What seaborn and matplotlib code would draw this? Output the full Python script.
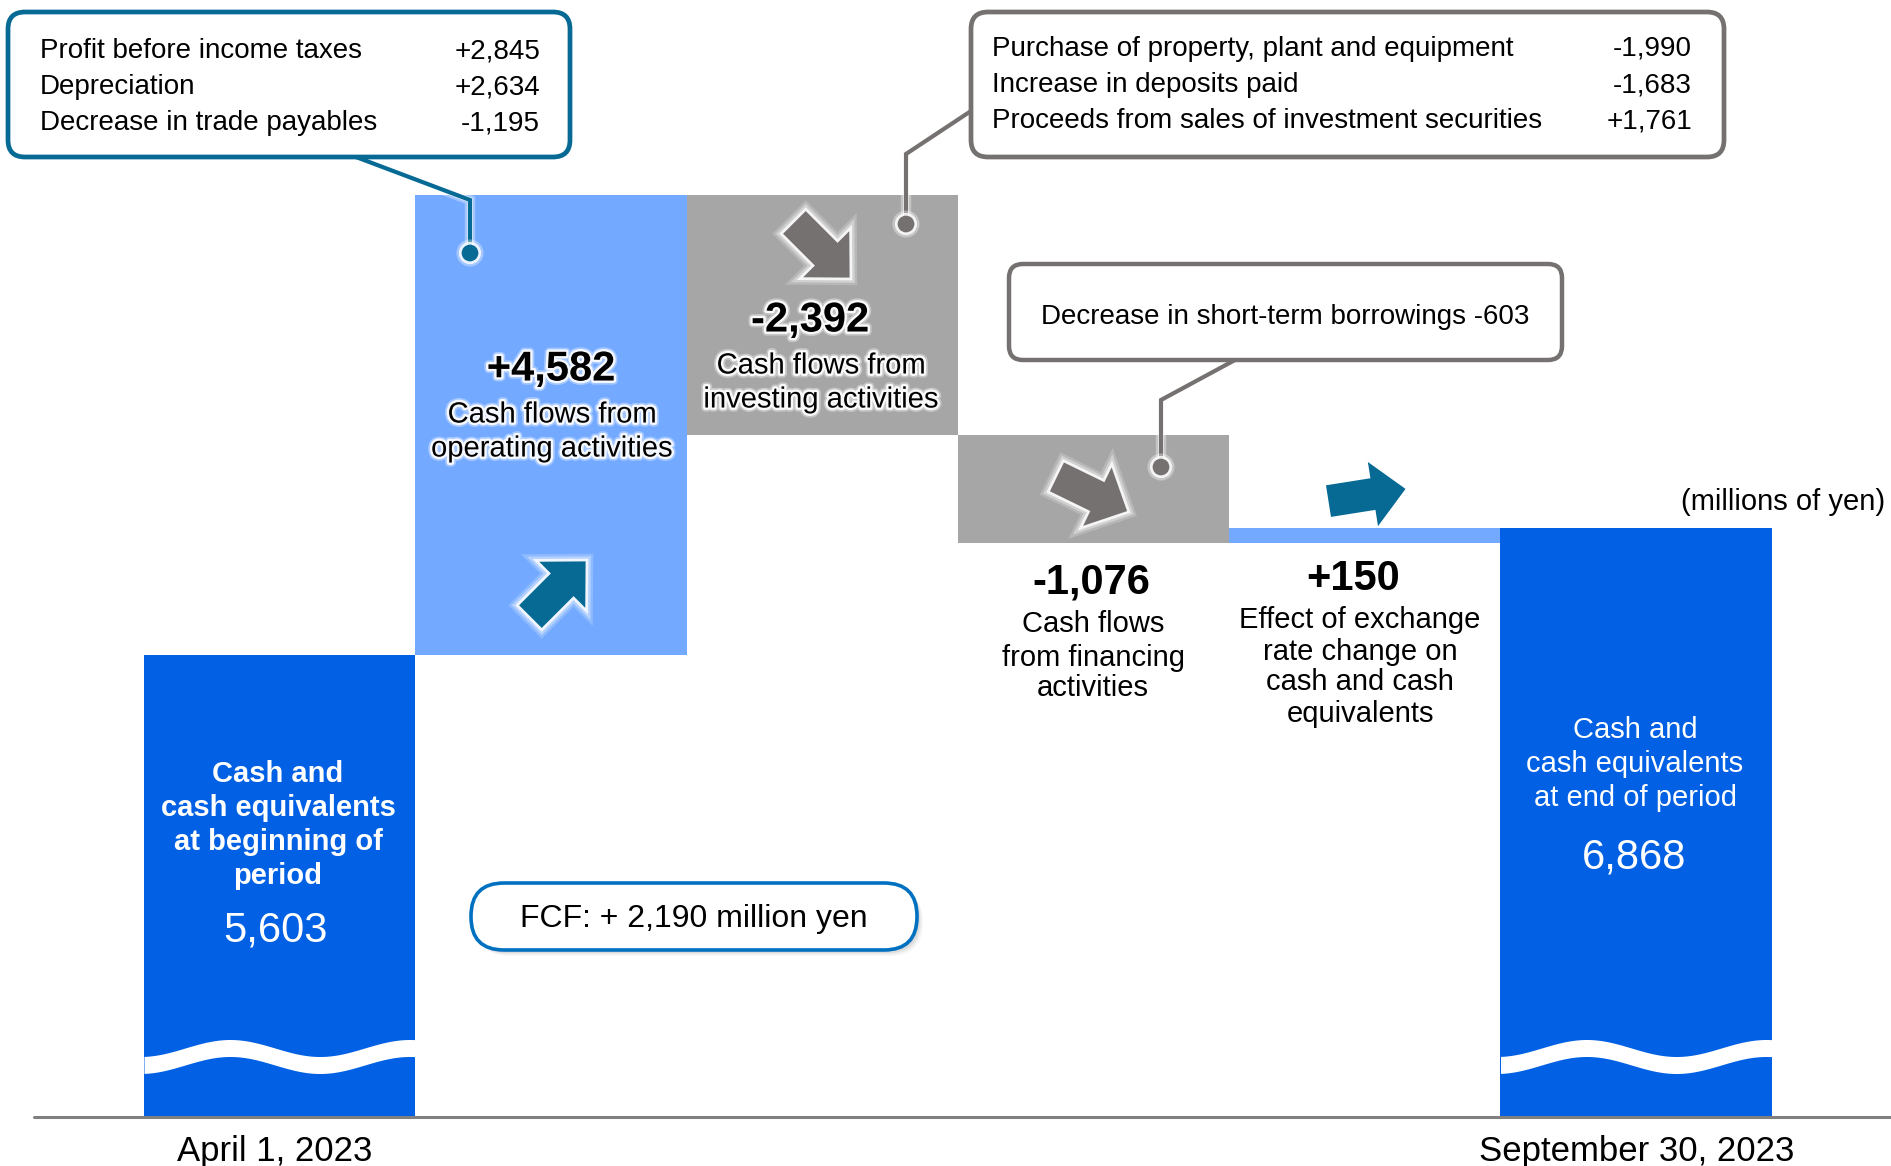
import numpy as np
import pandas as pd
import matplotlib
matplotlib.use("Agg")
import matplotlib.pyplot as plt
import seaborn as sns
from matplotlib.patches import FancyBboxPatch, Polygon
from matplotlib.transforms import Affine2D
import matplotlib.patheffects as pe

# ---------------- data ----------------
steps = ["Beginning balance", "Operating activities", "Investing activities",
         "Financing activities", "Exchange rate effect", "Ending balance"]
opening_cash = 5603
flows = [4582, -2392, -1076, 150]
closing_cash = 6868
flow_labels = ["+4,582", "-2,392", "-1,076", "+150"]

op_items = ["Profit before income taxes", "Depreciation", "Decrease in trade payables"]
op_values = ["+2,845", "+2,634", "-1,195"]
inv_items = ["Purchase of property, plant and equipment", "Increase in deposits paid",
             "Proceeds from sales of investment securities"]
inv_values = ["-1,990", "-1,683", "+1,761"]
fin_note = "Decrease in short-term borrowings -603"
fcf_text = "FCF: + 2,190 million yen"
date_labels = ["April 1, 2023", "September 30, 2023"]
unit_label = "(millions of yen)"

# ---------------- layout / style ----------------
W, H, DPI = 1891, 1166, 100
AXIS_FLOOR = 1001          # broken-axis floor for the balance bars
YLIM = (513, 12127)
XLIM = (-1.0308, 5.9394)
TEXT_DY = 3.5              # visual-centre correction for text placement (px)
DARK = "#0160E4"
LIGHT = "#73A9FF"
GRAY = "#A6A6A6"
ARROW_GRAY = "#767171"
TEAL = "#066A94"
FCF_BLUE = "#0070C0"

sns.set_theme(style="white")
plt.rcParams["font.family"] = ["Liberation Sans", "DejaVu Sans"]

fig = plt.figure(figsize=(W / DPI, H / DPI), dpi=DPI)
ax = fig.add_axes([0, 0, 1, 1])

# waterfall geometry from the data
bottoms, tops = [AXIS_FLOOR], [opening_cash]
running = opening_cash
for f in flows:
    lo, hi = sorted([running, running + f])
    bottoms.append(lo)
    tops.append(hi)
    running += f
bottoms.append(AXIS_FLOOR)
tops.append(closing_cash)
df = pd.DataFrame({"step": steps,
                   "height": np.array(tops) - np.array(bottoms),
                   "bottom": bottoms})
colors = [DARK, LIGHT, GRAY, GRAY, LIGHT, DARK]

sns.barplot(data=df, x="step", y="height", order=steps,
            bottom=df["bottom"].to_numpy(), width=1.0, errorbar=None,
            color=DARK, linewidth=0, ax=ax, zorder=2)
for patch, c in zip(ax.patches, colors):
    patch.set_facecolor(c)
    patch.set_edgecolor("none")

ax.set_xlim(*XLIM)
ax.set_ylim(*YLIM)
ax.set_axis_off()

# baseline
ax.axhline(AXIS_FLOOR, xmin=34 / W, xmax=1, color="#808080", lw=2.2, zorder=4)

# wave break marks on balance bars
ppu = H / (YLIM[1] - YLIM[0])
t = np.linspace(0, 1, 200)
center_px = 1056.5 + 8.5 * np.cos(2 * np.pi * (t - 0.648) / 0.662)
def px_to_y(p):
    return YLIM[0] + (H - p) / ppu
for col in (0, len(steps) - 1):
    xs = col - 0.5 + t
    ax.fill_between(xs, px_to_y(center_px + 8.5), px_to_y(center_px - 8.5),
                    color="white", lw=0, zorder=3)

# pixel transform (x right, y down, full-res pixels)
PX = Affine2D().scale(1 / DPI, -1 / DPI).translate(0, H / DPI) + fig.dpi_scale_trans

GLOW_TEXT = [pe.Stroke(linewidth=6, foreground="white", alpha=0.35),
             pe.Stroke(linewidth=3.5, foreground="white", alpha=0.9), pe.Normal()]
GLOW_SHAPE = [pe.Stroke(linewidth=11, foreground="white", alpha=0.2),
              pe.Stroke(linewidth=7.5, foreground="white", alpha=0.35),
              pe.Stroke(linewidth=4, foreground="white", alpha=0.8), pe.Normal()]


def txt(x, y, s, size=21, weight="normal", color="black", ha="center", glow=False):
    tt = ax.text(x, y + TEXT_DY, s, transform=PX, fontsize=size, fontweight=weight,
                 color=color, ha=ha, va="center", zorder=7)
    if glow:
        tt.set_path_effects(GLOW_TEXT)
    return tt


def lines(x, ys, strs, **kw):
    for y, s in zip(ys, strs):
        txt(x, y, s, **kw)


def box(x0, y0, x1, y1, ec, lw, r, shadow=False):
    if shadow:
        for off, a in [(6, 0.06), (4.5, 0.1), (3, 0.14)]:
            ax.add_patch(FancyBboxPatch((x0 + off, y0 + off), x1 - x0, y1 - y0,
                                        boxstyle=f"round,pad=0,rounding_size={r}",
                                        transform=PX, fc="#808080", ec="none",
                                        alpha=a, zorder=5))
    ax.add_patch(FancyBboxPatch((x0, y0), x1 - x0, y1 - y0,
                                boxstyle=f"round,pad=0,rounding_size={r}",
                                transform=PX, fc="white", ec=ec, lw=lw, zorder=6))


def connector(pts, color):
    xs, ys = zip(*pts)
    ax.plot(xs, ys, transform=PX, color=color, lw=3, zorder=5,
            solid_joinstyle="miter", solid_capstyle="butt",
            path_effects=GLOW_SHAPE[1:])
    ax.plot([xs[-1]], [ys[-1]], "o", transform=PX, color=color, ms=12, mew=0,
            zorder=5, path_effects=GLOW_SHAPE[1:])


def block_arrow(cx, cy, angle, color, L=78, hl=33, hw=65, sw=32, glow=True):
    x0, xb, xt = -L / 2, L / 2 - hl, L / 2
    verts = [(x0, -sw / 2), (xb, -sw / 2), (xb, -hw / 2), (xt, 0),
             (xb, hw / 2), (xb, sw / 2), (x0, sw / 2)]
    tr = Affine2D().rotate_deg(-angle).translate(cx, cy) + PX
    poly = Polygon(verts, closed=True, transform=tr, fc=color, ec="none", zorder=6)
    if glow:
        poly.set_path_effects(GLOW_SHAPE)
    ax.add_patch(poly)


# ---------------- callouts ----------------
connector([(356, 157), (470, 200), (470, 253)], TEAL)
box(8, 12, 570, 157, TEAL, 3.4, 17)
for y, s, v in zip([48, 84, 120], op_items, op_values):
    txt(40, y, s, size=20, ha="left")
    txt(540, y, v, size=20, ha="right")

connector([(971, 111), (906, 154), (906, 224)], ARROW_GRAY)
box(971, 12, 1724, 157, ARROW_GRAY, 3.4, 17)
for y, s, v in zip([45, 82, 118], inv_items, inv_values):
    txt(992, y, s, size=20, ha="left")
    txt(1692, y, v, size=20, ha="right")

connector([(1235, 360), (1161, 400), (1161, 467)], ARROW_GRAY)
box(1009, 264, 1562, 360, ARROW_GRAY, 3.2, 14)
txt(1285, 313, fin_note, size=20)

box(471, 883, 917, 950, FCF_BLUE, 2.6, 33, shadow=True)
txt(694, 915, fcf_text, size=23)

# ---------------- arrows ----------------
block_arrow(558, 589, 45, TEAL)
block_arrow(822, 250, -45, ARROW_GRAY)
block_arrow(1092, 494, -26, ARROW_GRAY)
block_arrow(1367, 495, 9, TEAL, glow=False)

# ---------------- bar labels ----------------
lines(278, [771, 805, 838, 872],
      ["Cash and", "cash equivalents", "at beginning of", "period"],
      weight="bold", color="white")
txt(275, 927, f"{opening_cash:,}", size=30, color="white")

txt(551, 366, flow_labels[0], size=30, weight="bold", glow=True)
lines(552, [411, 445], ["Cash flows from", "operating activities"], glow=True)

txt(810, 317, flow_labels[1], size=30, weight="bold", glow=True)
lines(821, [362, 396], ["Cash flows from", "investing activities"], glow=True)

txt(1091, 579, flow_labels[2], size=30, weight="bold")
lines(1093, [621, 654, 685], ["Cash flows", "from financing", "activities"])

txt(1353, 575, flow_labels[3], size=30, weight="bold")
lines(1360, [616, 648, 679, 711],
      ["Effect of exchange", "rate change on", "cash and cash", "equivalents"])

lines(1635, [726, 760, 794], ["Cash and", "cash equivalents", "at end of period"],
      color="white")
txt(1634, 854, f"{closing_cash:,}", size=30, color="white")

txt(1885, 499, unit_label, size=21, ha="right")
txt(275, 1148, date_labels[0], size=25)
txt(1637, 1148, date_labels[1], size=25)

fig.savefig("out.png", dpi=DPI)
